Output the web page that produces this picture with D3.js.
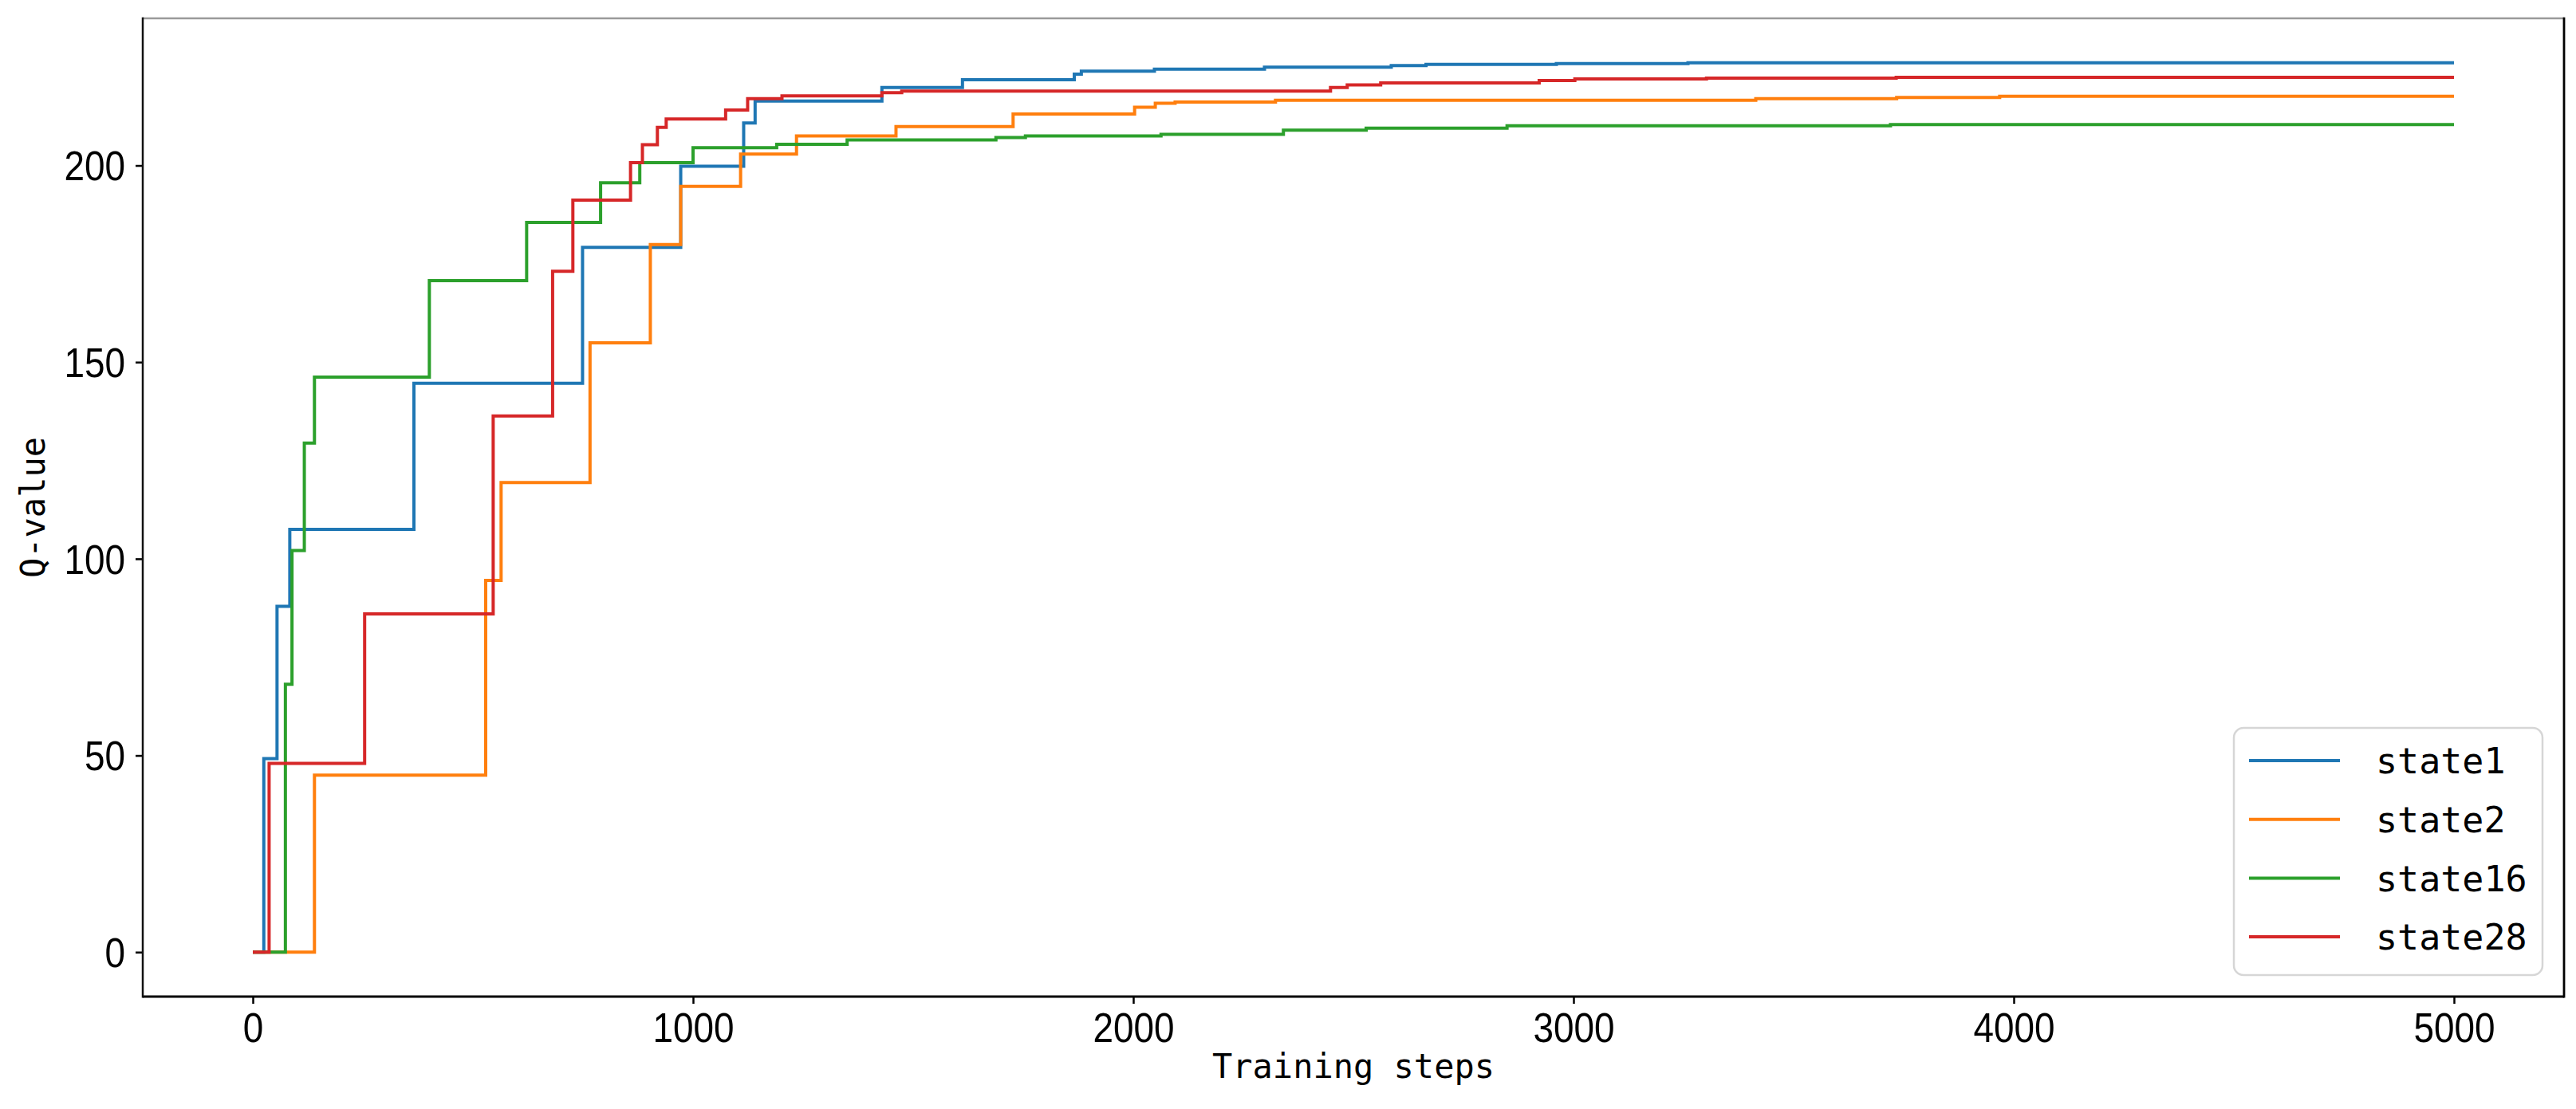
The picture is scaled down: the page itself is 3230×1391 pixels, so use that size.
<!DOCTYPE html>
<html>
<head>
<meta charset="utf-8">
<script src="https://cdn.jsdelivr.net/npm/d3@7"></script>
<style>
  html, body { margin: 0; padding: 0; background: #fff; }
  svg { display: block; }
</style>
</head>
<body>
<svg id="chart" width="3230" height="1391"></svg>
<script>
// ---------------- DATA ----------------
const seriesNames = ["state1", "state2", "state16", "state28"];
const seriesColors = ["#1f77b4", "#ff7f0e", "#2ca02c", "#d62728"];

// step positions where each curve changes, and the value it takes from there on
const state1Steps  = [0, 25, 55, 84, 366, 749, 972, 1115, 1141, 1429, 1612, 1866, 1882, 2048, 2298, 2586, 2665, 2961, 3260, 5000];
const state1Values = [0, 49.2, 87.9, 107.5, 144.6, 179.2, 199.8, 210.8, 216.4, 219.8, 221.8, 223.2, 224.0, 224.5, 225.0, 225.4, 225.7, 225.9, 226.1, 226.1];

const state2Steps  = [0, 140, 529, 564, 766, 903, 972, 1108, 1235, 1461, 1727, 2003, 2050, 2095, 2323, 3414, 3734, 3968, 5000];
const state2Values = [0, 45.0, 94.5, 119.4, 154.9, 179.9, 194.7, 202.9, 207.5, 209.9, 213.1, 214.8, 215.8, 216.1, 216.6, 217.0, 217.3, 217.6, 217.6];

const state16Steps  = [0, 74, 89, 117, 140, 401, 622, 790, 879, 1000, 1190, 1350, 1688, 1755, 2063, 2341, 2529, 2849, 3720, 5000];
const state16Values = [0, 68.1, 102.1, 129.4, 146.2, 170.7, 185.5, 195.6, 200.7, 204.5, 205.4, 206.5, 207.1, 207.5, 207.9, 209.0, 209.5, 210.1, 210.4, 210.4];

const state28Steps  = [0, 37, 254, 546, 681, 727, 858, 885, 919, 939, 1074, 1124, 1202, 1429, 1474, 2448, 2486, 2562, 2922, 3003, 3302, 3733, 5000];
const state28Values = [0, 48.0, 86.0, 136.3, 173.1, 191.2, 200.7, 205.3, 209.7, 211.8, 214.1, 217.0, 217.7, 218.5, 218.9, 219.8, 220.5, 221.0, 221.6, 222.0, 222.2, 222.4, 222.4];

const xTicks = [0, 1000, 2000, 3000, 4000, 5000];
const yTicks = [0, 50, 100, 150, 200];
const xLabel = "Training steps";
const yLabel = "Q-value";

// ---------------- LAYOUT ----------------
const plot = { left: 179, right: 3215, top: 23, bottom: 1250 };
const series = [
  { name: seriesNames[0], color: seriesColors[0], steps: state1Steps,  values: state1Values },
  { name: seriesNames[1], color: seriesColors[1], steps: state2Steps,  values: state2Values },
  { name: seriesNames[2], color: seriesColors[2], steps: state16Steps, values: state16Values },
  { name: seriesNames[3], color: seriesColors[3], steps: state28Steps, values: state28Values }
];

const xMin = 0, xMax = 5000;
const xPad = (xMax - xMin) * 0.05;
const yMaxData = d3.max(series, s => d3.max(s.values));
const yMinData = 0;
const yPad = (yMaxData - yMinData) * 0.05;

const x = d3.scaleLinear().domain([xMin - xPad, xMax + xPad]).range([plot.left, plot.right]);
const y = d3.scaleLinear().domain([yMinData - yPad, yMaxData + yPad]).range([plot.bottom, plot.top]);

const svg = d3.select("#chart");
svg.append("rect").attr("width", 3230).attr("height", 1391).attr("fill", "#fff");

// clip
svg.append("clipPath").attr("id", "clip").append("rect")
  .attr("x", plot.left).attr("y", plot.top)
  .attr("width", plot.right - plot.left).attr("height", plot.bottom - plot.top);

// lines
const line = d3.line().x(d => x(d[0])).y(d => y(d[1])).curve(d3.curveStepAfter);
const gLines = svg.append("g").attr("clip-path", "url(#clip)");
series.forEach(s => {
  const pts = s.steps.map((st, i) => [st, s.values[i]]);
  gLines.append("path").datum(pts)
    .attr("d", line)
    .attr("fill", "none")
    .attr("stroke", s.color)
    .attr("stroke-width", 4)
    .attr("stroke-linejoin", "miter")
    .attr("stroke-linecap", "butt");
});

// axes
const tickFont = "'Liberation Sans', Arial, sans-serif";
const labelFont = "'DejaVu Sans Mono', monospace";

const xAxis = d3.axisBottom(x).tickValues(xTicks).tickSize(9).tickPadding(0).tickFormat(d3.format("d"));
const gx = svg.append("g").attr("transform", `translate(0,${plot.bottom})`).call(xAxis);
gx.select(".domain").remove();
gx.selectAll(".tick line").attr("stroke", "#000").attr("stroke-width", 2.5);
gx.selectAll(".tick text")
  .attr("font-family", tickFont).attr("font-size", 51).attr("fill", "#000")
  .attr("y", 0).attr("dy", 0)
  .attr("transform", "scale(0.9,1)")
  .attr("dominant-baseline", "alphabetic")
  .attr("y", 57);

const yAxis = d3.axisLeft(y).tickValues(yTicks).tickSize(9).tickPadding(0).tickFormat(d3.format("d"));
const gy = svg.append("g").attr("transform", `translate(${plot.left},0)`).call(yAxis);
gy.select(".domain").remove();
gy.selectAll(".tick line").attr("stroke", "#000").attr("stroke-width", 2.5);
gy.selectAll(".tick text")
  .attr("font-family", tickFont).attr("font-size", 51).attr("fill", "#000")
  .attr("text-anchor", "end")
  .attr("x", -22 / 0.9).attr("dy", "0.36em")
  .attr("transform", "scale(0.9,1)");

// spines
svg.append("line").attr("x1", plot.left).attr("x2", plot.right).attr("y1", plot.top).attr("y2", plot.top)
  .attr("stroke", "#9a9a9a").attr("stroke-width", 2.5);
svg.append("line").attr("x1", plot.left).attr("x2", plot.right).attr("y1", plot.bottom).attr("y2", plot.bottom)
  .attr("stroke", "#000").attr("stroke-width", 2.8);
svg.append("line").attr("x1", plot.left).attr("x2", plot.left).attr("y1", plot.top - 1.2).attr("y2", plot.bottom + 1.4)
  .attr("stroke", "#111").attr("stroke-width", 2.5);
svg.append("line").attr("x1", plot.right).attr("x2", plot.right).attr("y1", plot.top - 1.2).attr("y2", plot.bottom + 1.4)
  .attr("stroke", "#000").attr("stroke-width", 2.8);

// axis labels
svg.append("text")
  .attr("x", (plot.left + plot.right) / 2).attr("y", 1352)
  .attr("text-anchor", "middle")
  .attr("font-family", labelFont).attr("font-size", 42).attr("fill", "#000")
  .text(xLabel);

svg.append("text")
  .attr("transform", `translate(56,${(plot.top + plot.bottom) / 2}) rotate(-90)`)
  .attr("text-anchor", "middle")
  .attr("font-family", labelFont).attr("font-size", 42).attr("fill", "#000")
  .text(yLabel);

// legend
const legend = { x: 2801, y: 913, w: 387, h: 310, rowStart: 954, rowGap: 73.7 };
svg.append("rect")
  .attr("x", legend.x).attr("y", legend.y).attr("width", legend.w).attr("height", legend.h)
  .attr("rx", 12).attr("ry", 12)
  .attr("fill", "#fff").attr("fill-opacity", 0.8)
  .attr("stroke", "#d6d6d6").attr("stroke-width", 2.5);
const gLeg = svg.append("g");
series.forEach((s, i) => {
  const cy = legend.rowStart + i * legend.rowGap;
  gLeg.append("line").attr("x1", 2820).attr("x2", 2934).attr("y1", cy).attr("y2", cy)
    .attr("stroke", s.color).attr("stroke-width", 4);
  gLeg.append("text").attr("x", 2979).attr("y", cy).attr("dy", "0.36em")
    .attr("font-family", labelFont).attr("font-size", 45).attr("fill", "#000")
    .text(s.name);
});
</script>
</body>
</html>
